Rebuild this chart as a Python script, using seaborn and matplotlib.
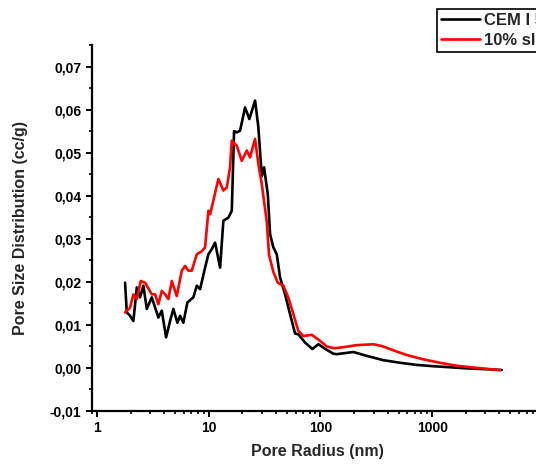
import matplotlib
matplotlib.use("Agg")
import matplotlib.pyplot as plt
from matplotlib.ticker import FuncFormatter, MultipleLocator, LogLocator, NullFormatter, FixedLocator
import numpy as np
import pandas as pd
import seaborn as sns

# Pore size distribution (cc/g) versus pore radius (nm)
radius_cem = [1.78, 1.845, 1.974, 2.113, 2.267, 2.426, 2.597, 2.786, 3.088, 3.538,
              3.795, 4.147, 4.503, 4.82, 5.235, 5.534, 5.924, 6.434, 7.28, 7.81,
              8.36, 9.27, 9.92, 10.64, 11.39, 12.63, 13.51, 14.98, 16.07, 16.85,
              17.81, 19.06, 21.13, 23.09, 25.97, 27.8, 29.83, 31.26, 33.75, 35.39,
              37.87, 40.62, 43.5, 48.2, 53.43, 59.24, 63.4, 72.8, 84.6, 95.8,
              113.9, 130.5, 140.0, 197.0, 259.8, 365.8, 516.0, 728.0, 1025.0, 1446.0,
              2041.0, 3083.0, 4200.0]
psd_cem = [0.0198, 0.0129, 0.0121, 0.0109, 0.0187, 0.0164, 0.0191, 0.0137, 0.0164, 0.0117,
           0.0133, 0.0071, 0.0109, 0.0137, 0.0105, 0.0121, 0.0105, 0.0152, 0.0164, 0.0191,
           0.0183, 0.0233, 0.0264, 0.0276, 0.0291, 0.0233, 0.0342, 0.0349, 0.0365, 0.0550,
           0.0547, 0.0551, 0.0605, 0.0578, 0.0621, 0.0559, 0.0445, 0.0466, 0.0404, 0.0311,
           0.0280, 0.0264, 0.0210, 0.0171, 0.0125, 0.0080, 0.0078, 0.0059, 0.0044, 0.0055,
           0.0042, 0.0033, 0.0032, 0.0037, 0.0028, 0.0018, 0.0012, 0.0007, 0.0004, 0.00016,
           -0.0001, -0.0003, -0.00047]

radius_slag = [1.78, 1.974, 2.113, 2.267, 2.462, 2.69, 3.088, 3.306, 3.538, 3.795,
               4.062, 4.348, 4.665, 5.17, 5.732, 6.135, 6.567, 7.045, 7.81, 8.66,
               9.27, 9.92, 10.27, 10.64, 12.19, 13.51, 14.5, 15.51, 16.07, 17.81,
               19.74, 21.89, 23.43, 25.97, 27.8, 29.83, 33.05, 34.67, 37.87, 41.48,
               46.55, 51.6, 57.2, 63.4, 70.3, 83.6, 95.8, 113.9, 130.5, 149.8,
               211.3, 297.6, 353.9, 449.5, 592.5, 834.0, 1177.0, 1661.0, 2338.0, 4055.0]
psd_slag = [0.0129, 0.0140, 0.0171, 0.0160, 0.0202, 0.0198, 0.0171, 0.0171, 0.0148, 0.0179,
            0.0171, 0.0160, 0.0202, 0.0167, 0.0226, 0.0237, 0.0226, 0.0226, 0.0264, 0.0271,
            0.0280, 0.0365, 0.0357, 0.0373, 0.0439, 0.0412, 0.0419, 0.0466, 0.0528, 0.0516,
            0.0481, 0.0505, 0.0489, 0.0532, 0.0474, 0.0427, 0.0340, 0.0262, 0.0223, 0.0198,
            0.0191, 0.0163, 0.0125, 0.0086, 0.0074, 0.0077, 0.0066, 0.0050, 0.0046, 0.0047,
            0.0053, 0.0055, 0.0051, 0.0041, 0.0030, 0.0020, 0.0012, 0.0005, 0.0001, -0.0005]

series_names = ["CEM I 52.5 N", "10% slag"]
series_colors = ["#000000", "#ff0000"]

x_ticks = [1, 10, 100, 1000]
y_ticks = [-0.01, 0.00, 0.01, 0.02, 0.03, 0.04, 0.05, 0.06, 0.07]

df = pd.concat([
    pd.DataFrame({"radius": radius_cem, "psd": psd_cem, "series": series_names[0]}),
    pd.DataFrame({"radius": radius_slag, "psd": psd_slag, "series": series_names[1]}),
], ignore_index=True)

sns.set_style("ticks")
plt.rcParams["font.family"] = ["Liberation Sans", "DejaVu Sans"]
plt.rcParams["font.weight"] = "bold"

fig = plt.figure(figsize=(5.36, 4.68), dpi=100)
ax = fig.add_axes([0.1716, 0.1218, 0.843, 0.782])

sns.lineplot(data=df, x="radius", y="psd", hue="series", hue_order=series_names,
             palette=series_colors, sort=False, estimator=None, linewidth=1.9,
             legend=False, ax=ax)
for line in ax.get_lines():
    line.set_solid_joinstyle("round")
    line.set_solid_capstyle("round")

ax.set_xscale("log")
ax.set_xlim(0.9, 10000)
ax.set_ylim(-0.01, 0.075)

ax.xaxis.set_major_locator(FixedLocator(x_ticks))
ax.xaxis.set_major_formatter(FuncFormatter(lambda v, p: f"{v:g}"))
ax.xaxis.set_minor_locator(LogLocator(base=10, subs=np.arange(2, 10)))
ax.xaxis.set_minor_formatter(NullFormatter())

ax.yaxis.set_major_locator(FixedLocator(y_ticks))
ax.yaxis.set_minor_locator(MultipleLocator(0.005))
ax.yaxis.set_major_formatter(FuncFormatter(lambda v, p: f"{v:.2f}".replace(".", ",").replace("-0,00", "0,00")))

for side in ["top", "right"]:
    ax.spines[side].set_visible(False)
for side in ["left", "bottom"]:
    ax.spines[side].set_linewidth(1.6)
    ax.spines[side].set_color("black")

ax.tick_params(axis="both", which="major", direction="out", length=4.5, width=1.4,
               labelsize=10, pad=3, colors="black")
ax.tick_params(axis="both", which="minor", direction="out", length=2.5, width=1.2, colors="black")
for lbl in ax.get_xticklabels() + ax.get_yticklabels():
    lbl.set_fontweight("bold")

ax.set_xlabel("Pore Radius (nm)", fontsize=11.5, fontweight="bold", labelpad=6)
ax.set_ylabel("Pore Size Distribution (cc/g)", fontsize=11.5, fontweight="bold", labelpad=16)

handles = ax.get_lines()[:2]
leg = fig.legend(handles, series_names, loc="upper left",
                 bbox_to_anchor=(437 / 536, 1 - 9 / 468), bbox_transform=fig.transFigure,
                 frameon=True, fancybox=False, edgecolor="black", framealpha=1,
                 prop={"size": 12, "weight": "bold"}, handlelength=2.3, handletextpad=0.3,
                 borderpad=0.25, labelspacing=0.3, borderaxespad=0)
leg.get_frame().set_linewidth(1.2)

fig.savefig("out.png", dpi=100)
